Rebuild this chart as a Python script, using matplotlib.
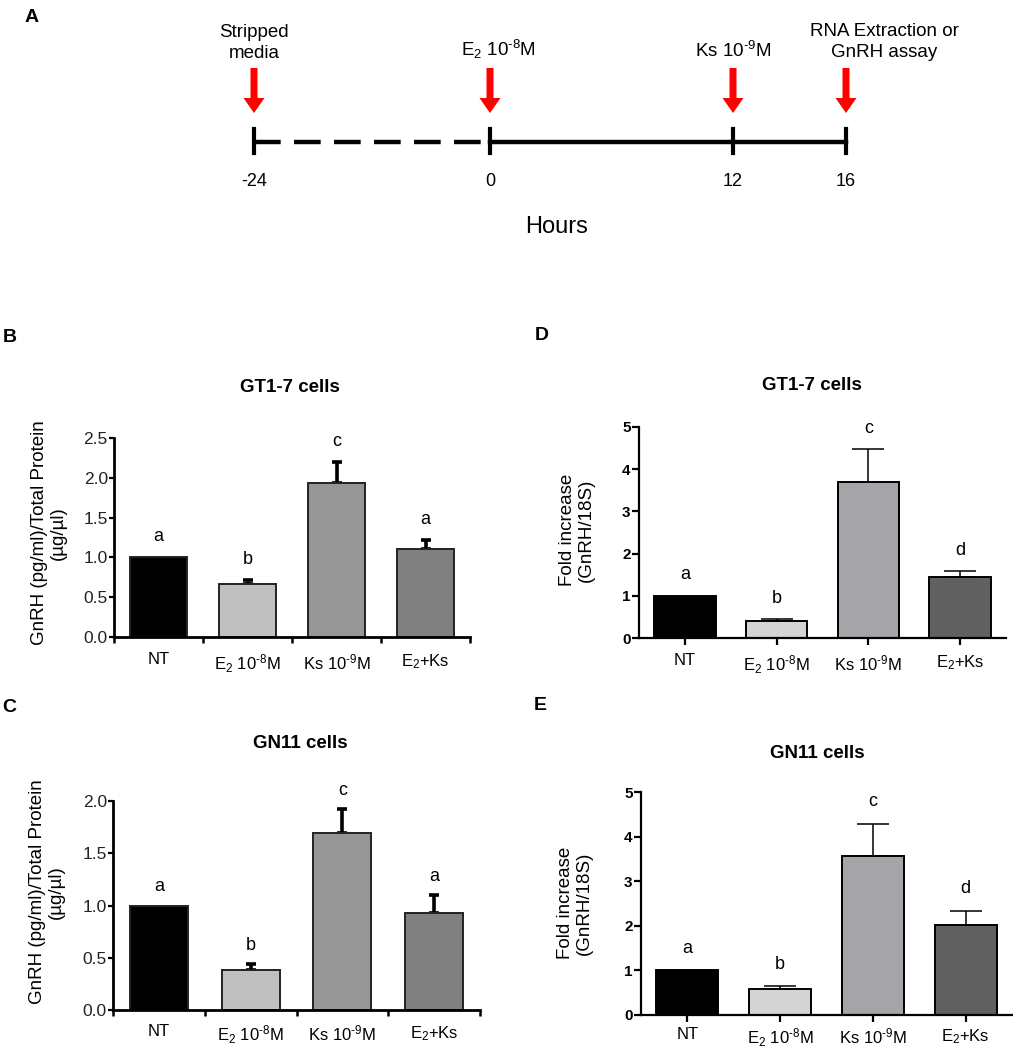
import numpy as np
import matplotlib
matplotlib.use('Agg')
from matplotlib import pyplot as plt

plt.rcParams['font.family'] = ['Liberation Sans', 'DejaVu Sans']
plt.rcParams['mathtext.fontset'] = 'custom'
plt.rcParams['mathtext.rm'] = 'Liberation Sans'
plt.rcParams['mathtext.it'] = 'Liberation Sans:italic'
plt.rcParams['mathtext.bf'] = 'Liberation Sans:bold'

# timeline (panel A)
time_labels = ['-24', '0', '12', '16']
event_labels = ['Stripped\nmedia', 'E$_2$ 10$^{\u20108}$M', 'Ks 10$^{\u20109}$M',
                'RNA Extraction or\nGnRH assay']

# bar panels
groups = ['NT', 'E$_2$ 10$^{\u20108}$M', 'Ks 10$^{\u20109}$M', 'E$_2$+Ks']

gt17_protein = [1.0, 0.67, 1.93, 1.11]
gt17_protein_err = [0.0, 0.04, 0.27, 0.11]
gt17_protein_sig = ['a', 'b', 'c', 'a']

gn11_protein = [1.0, 0.38, 1.69, 0.93]
gn11_protein_err = [0.0, 0.06, 0.23, 0.17]
gn11_protein_sig = ['a', 'b', 'c', 'a']

gt17_mrna = [1.0, 0.40, 3.70, 1.45]
gt17_mrna_err = [0.0, 0.04, 0.77, 0.13]
gt17_mrna_sig = ['a', 'b', 'c', 'd']

gn11_mrna = [1.0, 0.59, 3.56, 2.01]
gn11_mrna_err = [0.0, 0.05, 0.73, 0.33]
gn11_mrna_sig = ['a', 'b', 'c', 'd']

W, H = 1013, 1050
fig = plt.figure(figsize=(W / 100, H / 100), dpi=100)


def rect(l, t, r, b):
    return [l / W, 1 - b / H, (r - l) / W, (b - t) / H]


def ftext(x, y, s, **kw):
    fig.text(x / W, 1 - y / H, s, **kw)


# ---- panel A: timeline ----
axA = fig.add_axes([0, 1 - 260 / H, 1, 260 / H])
axA.set_xlim(0, W)
axA.set_ylim(260, 0)
axA.axis('off')
tl_x = [254, 490, 733, 846]
tl_y = 142
axA.plot([tl_x[0], tl_x[1]], [tl_y, tl_y], color='black', lw=3.2,
         linestyle=(0, (6, 3)))
axA.plot([tl_x[1], tl_x[3]], [tl_y, tl_y], color='black', lw=3.2)
for x, lab in zip(tl_x, time_labels):
    axA.plot([x, x], [129, 153], color='black', lw=3)
    axA.text(x, 182, lab, ha='center', va='center', fontsize=13)
    axA.arrow(x, 68, 0, 45, width=7, head_width=21, head_length=15,
              length_includes_head=True, color='#ff0000', lw=0)
ev_pos = [(254, 43), (498, 49), (733, 51), (884, 42)]
for (x, y), lab in zip(ev_pos, event_labels):
    axA.text(x, y, lab, ha='center', va='center', fontsize=13.5,
             linespacing=1.35)
axA.text(557, 227, 'Hours', ha='center', va='center', fontsize=17)
ftext(32, 17, 'A', fontsize=14, fontweight='bold', ha='center', va='center')


def bar_panel(box, vals, errs, sig, ymax, ystep, colors, thick, fmt,
              sig_off, title, title_xy, ylabel, ylabel_xy, xpad):
    ax = fig.add_axes(rect(*box))
    x = np.arange(len(vals))
    ec = '#222222' if thick else 'black'
    ax.bar(x, vals, width=0.63 if thick else 0.67, color=colors,
           edgecolor=ec, linewidth=1.4, zorder=2)
    has_err = [i for i, e in enumerate(errs) if e > 0]
    ax.errorbar(x[has_err], np.array(vals)[has_err],
                yerr=[[0] * len(has_err), np.array(errs)[has_err]],
                fmt='none', ecolor='black',
                elinewidth=2.6 if thick else 1.1,
                capsize=3.5 if thick else 11.5,
                capthick=2.6 if thick else 1.1, zorder=1)
    for xi, v, e, s in zip(x, vals, errs, sig):
        ax.text(xi, v + e + sig_off, s, ha='center', va='center',
                fontsize=13)
    ax.set_xlim(-0.5, len(vals) - 0.5)
    ax.set_ylim(0, ymax)
    ax.set_yticks(np.arange(0, ymax + ystep / 2, ystep))
    ax.yaxis.set_major_formatter(plt.FormatStrFormatter(fmt))
    for sp in ['top', 'right']:
        ax.spines[sp].set_visible(False)
    for sp in ['left', 'bottom']:
        ax.spines[sp].set_linewidth(2.0 if thick else 1.6)
    if thick:
        ax.tick_params(axis='y', direction='out', length=3.5, width=1.6,
                       pad=1, labelsize=12.5, labelcolor='#222222')
        ax.set_xticks(np.arange(-0.5, len(vals), 1.0))
        ax.set_xticklabels([])
        ax.set_xticks(x, minor=True)
        ax.set_xticklabels(groups, minor=True)
        ax.tick_params(axis='x', which='major', direction='out', length=4,
                       width=1.8)
        ax.tick_params(axis='x', which='minor', length=0, pad=xpad,
                       labelsize=12)
    else:
        ax.tick_params(axis='y', direction='out', length=5, width=1.6,
                       pad=1, labelsize=11)
        ax.set_xticks(x)
        ax.set_xticklabels(groups)
        ax.tick_params(axis='x', direction='out', length=5, width=1.6,
                       pad=xpad, labelsize=12)
        for t in ax.get_yticklabels():
            t.set_fontweight('bold')
    ftext(title_xy[0], title_xy[1], title, fontsize=13.5, fontweight='bold',
          ha='center', va='center')
    ftext(ylabel_xy[0], ylabel_xy[1], ylabel, fontsize=13.5, rotation=90,
          ha='center', va='center', linespacing=1.2)
    return ax


prot_label = 'GnRH (pg/ml)/Total Protein\n(\u00b5g/\u00b5l)'
fold_label = 'Fold increase\n(GnRH/18S)'
prot_colors = ['#000000', '#c0c0c0', '#969696', '#808080']
fold_colors = ['#000000', '#d4d4d4', '#a5a5a9', '#606060']

bar_panel((114, 438, 470, 637), gt17_protein, gt17_protein_err,
          gt17_protein_sig, 2.5, 0.5, prot_colors, True, '%.1f', 0.26,
          'GT1-7 cells', (290, 387), prot_label, (49, 533), 11)
bar_panel((113, 801, 480, 1010), gn11_protein, gn11_protein_err,
          gn11_protein_sig, 2.0, 0.5, prot_colors, True, '%.1f', 0.18,
          'GN11 cells', (300, 743), prot_label, (47, 892), 10)
bar_panel((639, 427, 1006, 638), gt17_mrna, gt17_mrna_err,
          gt17_mrna_sig, 5, 1, fold_colors, False, '%d', 0.5,
          'GT1-7 cells', (812, 385), fold_label, (577, 530), 6)
bar_panel((641, 792, 1012, 1015), gn11_mrna, gn11_mrna_err,
          gn11_mrna_sig, 5, 1, fold_colors, False, '%d', 0.5,
          'GN11 cells', (817, 753), fold_label, (575, 903), 3.5)

for lab, (x, y) in zip('BDCE', [(10, 338), (542, 335), (9, 707), (540, 705)]):
    ftext(x, y, lab, fontsize=14, fontweight='bold', ha='center',
          va='center')

plt.savefig('out.png', dpi=100)
